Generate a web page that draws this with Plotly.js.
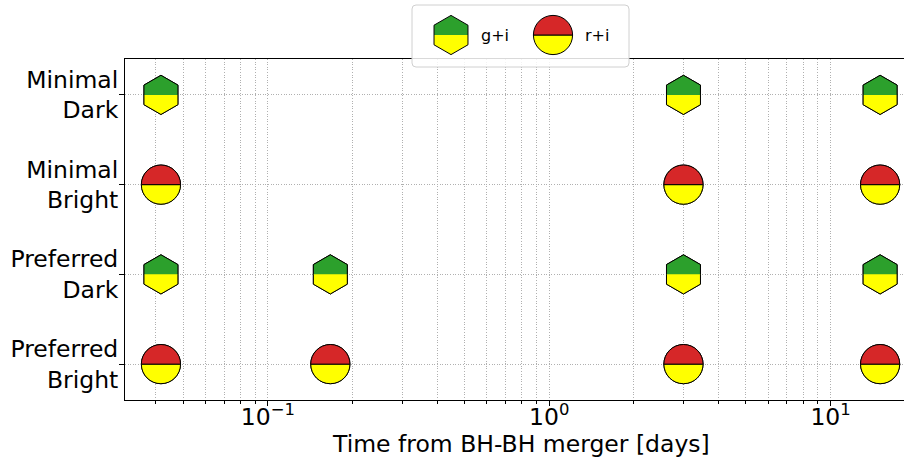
<!DOCTYPE html>
<html>
<head>
<meta charset="utf-8">
<script src="https://cdn.plot.ly/plotly-3.0.1.min.js"></script>
<style>html,body{margin:0;padding:0;background:#fff;}#chart{width:904px;height:458px;}</style>
</head>
<body>
<div id="chart"></div>
<script>
// ---- data ----
const scenarioLabels = ['Preferred<br>Bright', 'Preferred<br>Dark', 'Minimal<br>Bright', 'Minimal<br>Dark']; // bottom -> top
const scenarioRows = [0, 1, 2, 3];
// g+i observations (time in days, scenario row)
const giTimes = [1/24, 3, 15, 1/24, 4/24, 3, 15];
const giRows  = [3, 3, 3, 1, 1, 1, 1];
// r+i observations
const riTimes = [1/24, 3, 15, 1/24, 4/24, 3, 15];
const riRows  = [2, 2, 2, 0, 0, 0, 0];
const majorTickVals = [0.1, 1, 10];
const majorTickText = ['10<sup>\u22121</sup>', '10<sup>0</sup>', '10<sup>1</sup>'];
const minorTickVals = [0.04,0.05,0.06,0.07,0.08,0.09,0.2,0.3,0.4,0.5,0.6,0.7,0.8,0.9,2,3,4,5,6,7,8,9];
const legendLabels = ['g+i', 'r+i'];

// ---- styles ----
const GREEN = '#2ca02c', RED = '#d62728', YELLOW = '#ffff00';
const R = 19.6;                       // marker radius in px

function hexTop(r) { const w = r*Math.sqrt(3)/2; return `M${-w},0 L${-w},${r/2} L0,${r} L${w},${r/2} L${w},0`; }
function hexBottom(r) { const w = r*Math.sqrt(3)/2; return `M${-w},0 L${-w},${-r/2} L0,${-r} L${w},${-r/2} L${w},0`; }
function circTop(r) { const k = 0.5523*r; return `M${-r},0 C${-r},${k} ${-k},${r} 0,${r} C${k},${r} ${r},${k} ${r},0 Z`; }
function circBottom(r) { const k = 0.5523*r; return `M${-r},0 C${-r},${-k} ${-k},${-r} 0,${-r} C${k},${-r} ${r},${-k} ${r},0 Z`; }

const shapes = [];
function addHalf(ref, xa, ya, path, fill) {
  shapes.push({
    type: 'path', layer: 'above',
    xref: ref.x, yref: ref.y, xsizemode: 'pixel', ysizemode: 'pixel',
    xanchor: xa, yanchor: ya, path: path,
    fillcolor: fill, line: {color: '#000', width: 1}
  });
}
// marker halves drawn over the data markers
giTimes.forEach((t, i) => { addHalf({x:'x', y:'y'}, t, giRows[i], hexBottom(R), YELLOW); addHalf({x:'x', y:'y'}, t, giRows[i], hexTop(R), GREEN); });
riTimes.forEach((t, i) => { addHalf({x:'x', y:'y'}, t, riRows[i], circBottom(R), YELLOW); addHalf({x:'x', y:'y'}, t, riRows[i], circTop(R), RED); });

// legend box
const LX = (520.5 - 125) / 779, LY = (400 - 36) / 341;
const bw = 108.5, bh = 31, cr = 4;
shapes.push({
  type: 'path', layer: 'above', xref: 'paper', yref: 'paper', xsizemode: 'pixel', ysizemode: 'pixel',
  xanchor: LX, yanchor: LY,
  path: `M${-bw+cr},${bh} L${bw-cr},${bh} Q${bw},${bh} ${bw},${bh-cr} L${bw},${-bh+cr} Q${bw},${-bh} ${bw-cr},${-bh} L${-bw+cr},${-bh} Q${-bw},${-bh} ${-bw},${-bh+cr} L${-bw},${bh-cr} Q${-bw},${bh} ${-bw+cr},${bh} Z`,
  fillcolor: 'rgba(255,255,255,0.85)', line: {color: '#d0d0d0', width: 1}
});
const legIconX = [(451 - 125) / 779, (553 - 125) / 779];
const legIconY = (400 - 35) / 341;
addHalf({x:'paper', y:'paper'}, legIconX[0], legIconY, hexBottom(R), YELLOW);
addHalf({x:'paper', y:'paper'}, legIconX[0], legIconY, hexTop(R), GREEN);
addHalf({x:'paper', y:'paper'}, legIconX[1], legIconY, circBottom(R), YELLOW);
addHalf({x:'paper', y:'paper'}, legIconX[1], legIconY, circTop(R), RED);

const annotations = [
  {xref:'paper', yref:'paper', x: (479 - 125) / 779, y: legIconY, xanchor:'left', yanchor:'middle',
   text: legendLabels[0], showarrow:false, font:{size:16, color:'#000'}},
  {xref:'paper', yref:'paper', x: (583 - 125) / 779, y: legIconY, xanchor:'left', yanchor:'middle',
   text: legendLabels[1], showarrow:false, font:{size:16, color:'#000'}},
  {xref:'paper', yref:'paper', x: (520.5 - 125) / 779, y: 0, yshift: -28, xanchor:'center', yanchor:'top',
   text: 'Time from BH-BH merger [days]', showarrow:false, font:{size:23.5, color:'#000'}}
];

const traces = [
  {type:'scatter', mode:'markers', name: legendLabels[0], x: giTimes, y: giRows, showlegend:false,
   marker:{symbol:'hexagon', size: 2*R, color: YELLOW, line:{color:'#000', width:1}}, cliponaxis:false},
  {type:'scatter', mode:'markers', name: legendLabels[1], x: riTimes, y: riRows, showlegend:false,
   marker:{symbol:'circle', size: 2*R, color: YELLOW, line:{color:'#000', width:1}}, cliponaxis:false}
];

const gridc = '#b0b0b0';
const gdash = '1px,1.6px';
const layout = {
  width: 904, height: 458,
  margin: {l:125, r:0, t:59, b:58, pad:0},
  paper_bgcolor:'#fff', plot_bgcolor:'#fff',
  font: {family:'DejaVu Sans', size:23.5, color:'#000'},
  showlegend: false,
  xaxis: {
    type:'log', range:[-1.508, 1.261],
    tickmode:'array', tickvals: majorTickVals, ticktext: majorTickText,
    ticks:'outside', ticklen:5, tickwidth:1, tickcolor:'#000',
    ticklabelstandoff: -9,
    showline:true, linecolor:'#000', linewidth:1, mirror:true,
    showgrid:true, gridcolor:gridc, griddash:gdash, gridwidth:1,
    zeroline:false,
    tickfont:{size:23.5},
    minor:{tickvals: minorTickVals, ticks:'outside', ticklen:3, tickcolor:'#000', showgrid:true, gridcolor:gridc, griddash:gdash, gridwidth:1}
  },
  yaxis: {
    range:[-0.4, 3.4],
    tickmode:'array', tickvals: scenarioRows, ticktext: scenarioLabels,
    ticks:'outside', ticklen:5, tickwidth:1, tickcolor:'#000',
    ticklabelstandoff: -4,
    showline:true, linecolor:'#000', linewidth:1, mirror:false,
    showgrid:true, gridcolor:gridc, griddash:gdash, gridwidth:1,
    zeroline:false, tickfont:{size:23.5}
  },
  shapes: shapes,
  annotations: annotations
};

Plotly.newPlot('chart', traces, layout, {staticPlot:true, displayModeBar:false});
</script>
</body>
</html>
